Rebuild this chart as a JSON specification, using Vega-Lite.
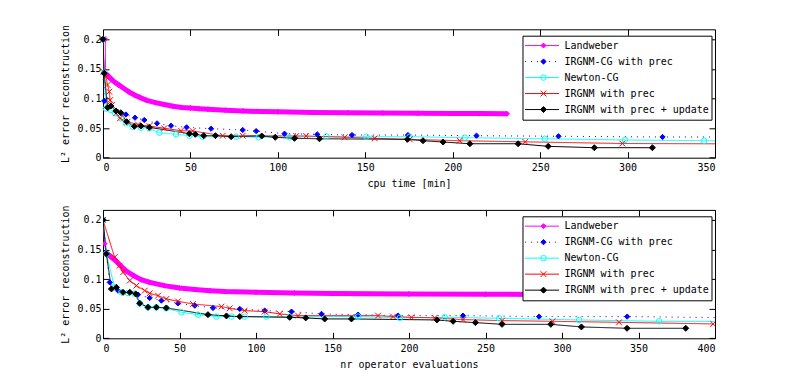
{
  "$schema": "https://vega.github.io/schema/vega-lite/v6.json",
  "padding": {"left": 60, "top": 23.3, "right": 5, "bottom": 5},
  "background": "white",
  "config": {
    "font": "DejaVu Sans Mono",
    "view": {"stroke": "#000", "strokeWidth": 1},
    "axis": {
      "labelFont": "DejaVu Sans Mono", "labelFontSize": 10, "labelColor": "#000",
      "titleFont": "DejaVu Sans Mono", "titleFontSize": 10, "titleFontWeight": "normal", "titleColor": "#000",
      "grid": false, "domain": false, "tickColor": "#000", "tickSize": -6, "tickWidth": 1
    }
  },
  "datasets": {
    "top": [
      {"s": "Landweber", "x": 0, "v": 0.2}, {"s": "Landweber", "x": 1.3, "v": 0.2}, {"s": "Landweber", "x": 1.5, "v": 0.143},
      {"s": "Landweber", "x": 3, "v": 0.138}, {"s": "Landweber", "x": 5, "v": 0.132}, {"s": "Landweber", "x": 7, "v": 0.127},
      {"s": "Landweber", "x": 9, "v": 0.123}, {"s": "Landweber", "x": 12, "v": 0.117}, {"s": "Landweber", "x": 15, "v": 0.111},
      {"s": "Landweber", "x": 18, "v": 0.106}, {"s": "Landweber", "x": 21, "v": 0.102}, {"s": "Landweber", "x": 25, "v": 0.097},
      {"s": "Landweber", "x": 30, "v": 0.093}, {"s": "Landweber", "x": 35, "v": 0.09}, {"s": "Landweber", "x": 40, "v": 0.087},
      {"s": "Landweber", "x": 45, "v": 0.085}, {"s": "Landweber", "x": 50, "v": 0.0838}, {"s": "Landweber", "x": 55, "v": 0.0828},
      {"s": "Landweber", "x": 60, "v": 0.0818}, {"s": "Landweber", "x": 70, "v": 0.0802}, {"s": "Landweber", "x": 80, "v": 0.079},
      {"s": "Landweber", "x": 90, "v": 0.078}, {"s": "Landweber", "x": 100, "v": 0.0775}, {"s": "Landweber", "x": 120, "v": 0.0765},
      {"s": "Landweber", "x": 140, "v": 0.076}, {"s": "Landweber", "x": 160, "v": 0.0755}, {"s": "Landweber", "x": 180, "v": 0.075},
      {"s": "Landweber", "x": 200, "v": 0.0748}, {"s": "Landweber", "x": 215, "v": 0.0745}, {"s": "Landweber", "x": 231, "v": 0.0743},

      {"s": "IRGNM-CG with prec", "x": 0, "v": 0.2}, {"s": "IRGNM-CG with prec", "x": 0.7, "v": 0.096}, {"s": "IRGNM-CG with prec", "x": 13.1, "v": 0.073},
      {"s": "IRGNM-CG with prec", "x": 18.3, "v": 0.0676}, {"s": "IRGNM-CG with prec", "x": 23.6, "v": 0.0637}, {"s": "IRGNM-CG with prec", "x": 30.9, "v": 0.058},
      {"s": "IRGNM-CG with prec", "x": 38.9, "v": 0.054}, {"s": "IRGNM-CG with prec", "x": 47.8, "v": 0.0513}, {"s": "IRGNM-CG with prec", "x": 61.8, "v": 0.049},
      {"s": "IRGNM-CG with prec", "x": 79.9, "v": 0.0468}, {"s": "IRGNM-CG with prec", "x": 87.6, "v": 0.045}, {"s": "IRGNM-CG with prec", "x": 103.8, "v": 0.0406},
      {"s": "IRGNM-CG with prec", "x": 122.5, "v": 0.0395}, {"s": "IRGNM-CG with prec", "x": 142.4, "v": 0.0383}, {"s": "IRGNM-CG with prec", "x": 174.4, "v": 0.0383},
      {"s": "IRGNM-CG with prec", "x": 213.6, "v": 0.0372}, {"s": "IRGNM-CG with prec", "x": 260.5, "v": 0.0362}, {"s": "IRGNM-CG with prec", "x": 320, "v": 0.035},
      {"s": "IRGNM-CG with prec", "x": 350, "v": 0.035},

      {"s": "Newton-CG", "x": 0, "v": 0.2}, {"s": "Newton-CG", "x": 0.7, "v": 0.1436}, {"s": "Newton-CG", "x": 1.7, "v": 0.083},
      {"s": "Newton-CG", "x": 4.5, "v": 0.0806}, {"s": "Newton-CG", "x": 7, "v": 0.075}, {"s": "Newton-CG", "x": 10.2, "v": 0.0665},
      {"s": "Newton-CG", "x": 13.1, "v": 0.058}, {"s": "Newton-CG", "x": 16.9, "v": 0.0524}, {"s": "Newton-CG", "x": 21.7, "v": 0.0507},
      {"s": "Newton-CG", "x": 26.5, "v": 0.0497}, {"s": "Newton-CG", "x": 32.2, "v": 0.0422}, {"s": "Newton-CG", "x": 41.8, "v": 0.0395},
      {"s": "Newton-CG", "x": 49.4, "v": 0.0372}, {"s": "Newton-CG", "x": 57, "v": 0.0355}, {"s": "Newton-CG", "x": 76.1, "v": 0.0355},
      {"s": "Newton-CG", "x": 89, "v": 0.0345}, {"s": "Newton-CG", "x": 106.7, "v": 0.0345}, {"s": "Newton-CG", "x": 127.7, "v": 0.036},
      {"s": "Newton-CG", "x": 150.6, "v": 0.0355}, {"s": "Newton-CG", "x": 175.4, "v": 0.0355}, {"s": "Newton-CG", "x": 206.9, "v": 0.0338},
      {"s": "Newton-CG", "x": 252.7, "v": 0.032}, {"s": "Newton-CG", "x": 298.5, "v": 0.03}, {"s": "Newton-CG", "x": 343.8, "v": 0.0287},
      {"s": "Newton-CG", "x": 350, "v": 0.0287},

      {"s": "IRGNM with prec", "x": 0, "v": 0.2}, {"s": "IRGNM with prec", "x": 0.3, "v": 0.145}, {"s": "IRGNM with prec", "x": 1.7, "v": 0.137},
      {"s": "IRGNM with prec", "x": 2.6, "v": 0.123}, {"s": "IRGNM with prec", "x": 3.6, "v": 0.1115}, {"s": "IRGNM with prec", "x": 4.1, "v": 0.0975},
      {"s": "IRGNM with prec", "x": 5.1, "v": 0.089}, {"s": "IRGNM with prec", "x": 7.5, "v": 0.075}, {"s": "IRGNM with prec", "x": 9.7, "v": 0.0665},
      {"s": "IRGNM with prec", "x": 14, "v": 0.0608}, {"s": "IRGNM with prec", "x": 20, "v": 0.056}, {"s": "IRGNM with prec", "x": 26.5, "v": 0.0535},
      {"s": "IRGNM with prec", "x": 35, "v": 0.0497}, {"s": "IRGNM with prec", "x": 44.6, "v": 0.0456}, {"s": "IRGNM with prec", "x": 51.3, "v": 0.0451},
      {"s": "IRGNM with prec", "x": 68.5, "v": 0.0372}, {"s": "IRGNM with prec", "x": 79.9, "v": 0.0372}, {"s": "IRGNM with prec", "x": 110.5, "v": 0.0367},
      {"s": "IRGNM with prec", "x": 116.2, "v": 0.0367}, {"s": "IRGNM with prec", "x": 138.2, "v": 0.0345}, {"s": "IRGNM with prec", "x": 155.4, "v": 0.0327},
      {"s": "IRGNM with prec", "x": 175.4, "v": 0.031}, {"s": "IRGNM with prec", "x": 204, "v": 0.0287}, {"s": "IRGNM with prec", "x": 241.5, "v": 0.0268},
      {"s": "IRGNM with prec", "x": 297, "v": 0.024}, {"s": "IRGNM with prec", "x": 350, "v": 0.0235},

      {"s": "IRGNM with prec + update", "x": 0, "v": 0.2}, {"s": "IRGNM with prec + update", "x": 0.7, "v": 0.1426}, {"s": "IRGNM with prec + update", "x": 2.6, "v": 0.0845},
      {"s": "IRGNM with prec + update", "x": 4.5, "v": 0.0873}, {"s": "IRGNM with prec + update", "x": 7.4, "v": 0.079}, {"s": "IRGNM with prec + update", "x": 10.2, "v": 0.076},
      {"s": "IRGNM with prec + update", "x": 13.5, "v": 0.0608}, {"s": "IRGNM with prec + update", "x": 17.9, "v": 0.053}, {"s": "IRGNM with prec + update", "x": 21.7, "v": 0.0535},
      {"s": "IRGNM with prec + update", "x": 26.5, "v": 0.0513}, {"s": "IRGNM with prec + update", "x": 49.4, "v": 0.0406}, {"s": "IRGNM with prec + update", "x": 52.8, "v": 0.0395},
      {"s": "IRGNM with prec + update", "x": 57.6, "v": 0.0372}, {"s": "IRGNM with prec + update", "x": 64.3, "v": 0.0372}, {"s": "IRGNM with prec + update", "x": 73.3, "v": 0.0355},
      {"s": "IRGNM with prec + update", "x": 90.8, "v": 0.0367}, {"s": "IRGNM with prec + update", "x": 98.5, "v": 0.0345}, {"s": "IRGNM with prec + update", "x": 109.5, "v": 0.0327},
      {"s": "IRGNM with prec + update", "x": 123.8, "v": 0.032}, {"s": "IRGNM with prec + update", "x": 174.1, "v": 0.031}, {"s": "IRGNM with prec + update", "x": 183, "v": 0.0287},
      {"s": "IRGNM with prec + update", "x": 194.5, "v": 0.0265}, {"s": "IRGNM with prec + update", "x": 209.8, "v": 0.0236}, {"s": "IRGNM with prec + update", "x": 237.4, "v": 0.0236},
      {"s": "IRGNM with prec + update", "x": 254.6, "v": 0.0192}, {"s": "IRGNM with prec + update", "x": 281, "v": 0.0169}, {"s": "IRGNM with prec + update", "x": 314.2, "v": 0.0169}
    ],
    "bot": [
      {"s": "Landweber", "x": 0, "v": 0.2}, {"s": "Landweber", "x": 1, "v": 0.16}, {"s": "Landweber", "x": 2, "v": 0.145},
      {"s": "Landweber", "x": 5, "v": 0.138}, {"s": "Landweber", "x": 8, "v": 0.132}, {"s": "Landweber", "x": 11, "v": 0.124},
      {"s": "Landweber", "x": 15, "v": 0.114}, {"s": "Landweber", "x": 20, "v": 0.106}, {"s": "Landweber", "x": 25, "v": 0.099},
      {"s": "Landweber", "x": 30, "v": 0.095}, {"s": "Landweber", "x": 40, "v": 0.089}, {"s": "Landweber", "x": 50, "v": 0.085},
      {"s": "Landweber", "x": 60, "v": 0.0825}, {"s": "Landweber", "x": 70, "v": 0.0805}, {"s": "Landweber", "x": 80, "v": 0.079},
      {"s": "Landweber", "x": 100, "v": 0.0777}, {"s": "Landweber", "x": 125, "v": 0.0765}, {"s": "Landweber", "x": 150, "v": 0.0755},
      {"s": "Landweber", "x": 200, "v": 0.075}, {"s": "Landweber", "x": 250, "v": 0.0745}, {"s": "Landweber", "x": 300, "v": 0.0738},
      {"s": "Landweber", "x": 330, "v": 0.0735},

      {"s": "IRGNM-CG with prec", "x": 0, "v": 0.2}, {"s": "IRGNM-CG with prec", "x": 2.2, "v": 0.143}, {"s": "IRGNM-CG with prec", "x": 4.4, "v": 0.0946},
      {"s": "IRGNM-CG with prec", "x": 9.8, "v": 0.0806}, {"s": "IRGNM-CG with prec", "x": 17.5, "v": 0.0777}, {"s": "IRGNM-CG with prec", "x": 22.9, "v": 0.0738},
      {"s": "IRGNM-CG with prec", "x": 30.5, "v": 0.0682}, {"s": "IRGNM-CG with prec", "x": 38.2, "v": 0.0637}, {"s": "IRGNM-CG with prec", "x": 49, "v": 0.0591},
      {"s": "IRGNM-CG with prec", "x": 60, "v": 0.0552}, {"s": "IRGNM-CG with prec", "x": 71.9, "v": 0.0513}, {"s": "IRGNM-CG with prec", "x": 89.4, "v": 0.0496},
      {"s": "IRGNM-CG with prec", "x": 105.7, "v": 0.0468}, {"s": "IRGNM-CG with prec", "x": 123.2, "v": 0.0451}, {"s": "IRGNM-CG with prec", "x": 142.8, "v": 0.0412},
      {"s": "IRGNM-CG with prec", "x": 166.7, "v": 0.04}, {"s": "IRGNM-CG with prec", "x": 192.9, "v": 0.0383}, {"s": "IRGNM-CG with prec", "x": 235.3, "v": 0.0383},
      {"s": "IRGNM-CG with prec", "x": 285, "v": 0.0367}, {"s": "IRGNM-CG with prec", "x": 342.6, "v": 0.0367}, {"s": "IRGNM-CG with prec", "x": 400, "v": 0.035},

      {"s": "Newton-CG", "x": 0, "v": 0.2}, {"s": "Newton-CG", "x": 2.2, "v": 0.1426}, {"s": "Newton-CG", "x": 7.6, "v": 0.0861},
      {"s": "Newton-CG", "x": 12, "v": 0.0777}, {"s": "Newton-CG", "x": 16.3, "v": 0.0767}, {"s": "Newton-CG", "x": 20.5, "v": 0.0755},
      {"s": "Newton-CG", "x": 24, "v": 0.059}, {"s": "Newton-CG", "x": 29.4, "v": 0.0524}, {"s": "Newton-CG", "x": 34.9, "v": 0.0524},
      {"s": "Newton-CG", "x": 41.4, "v": 0.0507}, {"s": "Newton-CG", "x": 51.3, "v": 0.0439}, {"s": "Newton-CG", "x": 62.1, "v": 0.04},
      {"s": "Newton-CG", "x": 74.1, "v": 0.0367}, {"s": "Newton-CG", "x": 84, "v": 0.0367}, {"s": "Newton-CG", "x": 92.6, "v": 0.0367},
      {"s": "Newton-CG", "x": 106.8, "v": 0.0367}, {"s": "Newton-CG", "x": 122, "v": 0.0362}, {"s": "Newton-CG", "x": 166.7, "v": 0.0367},
      {"s": "Newton-CG", "x": 194, "v": 0.0345}, {"s": "Newton-CG", "x": 223.4, "v": 0.0355}, {"s": "Newton-CG", "x": 258.9, "v": 0.0338},
      {"s": "Newton-CG", "x": 311.2, "v": 0.031}, {"s": "Newton-CG", "x": 363.5, "v": 0.0287}, {"s": "Newton-CG", "x": 400, "v": 0.0285},

      {"s": "IRGNM with prec", "x": 0, "v": 0.2}, {"s": "IRGNM with prec", "x": 7.6, "v": 0.137}, {"s": "IRGNM with prec", "x": 10.9, "v": 0.1228},
      {"s": "IRGNM with prec", "x": 13.1, "v": 0.1115}, {"s": "IRGNM with prec", "x": 17.5, "v": 0.0975}, {"s": "IRGNM with prec", "x": 21.8, "v": 0.089},
      {"s": "IRGNM with prec", "x": 27.3, "v": 0.0806}, {"s": "IRGNM with prec", "x": 30.5, "v": 0.076}, {"s": "IRGNM with prec", "x": 36, "v": 0.0721},
      {"s": "IRGNM with prec", "x": 41.4, "v": 0.0665}, {"s": "IRGNM with prec", "x": 49, "v": 0.0625}, {"s": "IRGNM with prec", "x": 58.8, "v": 0.058},
      {"s": "IRGNM with prec", "x": 77.4, "v": 0.0535}, {"s": "IRGNM with prec", "x": 82.8, "v": 0.0507}, {"s": "IRGNM with prec", "x": 92.6, "v": 0.0468},
      {"s": "IRGNM with prec", "x": 105.7, "v": 0.0451}, {"s": "IRGNM with prec", "x": 115.5, "v": 0.0412}, {"s": "IRGNM with prec", "x": 127.5, "v": 0.0383},
      {"s": "IRGNM with prec", "x": 179.8, "v": 0.0383}, {"s": "IRGNM with prec", "x": 189.6, "v": 0.0367}, {"s": "IRGNM with prec", "x": 201.6, "v": 0.0355},
      {"s": "IRGNM with prec", "x": 216.8, "v": 0.0345}, {"s": "IRGNM with prec", "x": 235.3, "v": 0.0316}, {"s": "IRGNM with prec", "x": 260.8, "v": 0.0299},
      {"s": "IRGNM with prec", "x": 293.8, "v": 0.0287}, {"s": "IRGNM with prec", "x": 337.3, "v": 0.027}, {"s": "IRGNM with prec", "x": 398.8, "v": 0.0243},

      {"s": "IRGNM with prec + update", "x": 0, "v": 0.2}, {"s": "IRGNM with prec + update", "x": 2.2, "v": 0.1426}, {"s": "IRGNM with prec + update", "x": 5.5, "v": 0.0834},
      {"s": "IRGNM with prec + update", "x": 8.8, "v": 0.0861}, {"s": "IRGNM with prec + update", "x": 13.1, "v": 0.0777}, {"s": "IRGNM with prec + update", "x": 17.5, "v": 0.0777},
      {"s": "IRGNM with prec + update", "x": 21.4, "v": 0.075}, {"s": "IRGNM with prec + update", "x": 24, "v": 0.0591}, {"s": "IRGNM with prec + update", "x": 29.4, "v": 0.0524},
      {"s": "IRGNM with prec + update", "x": 34.9, "v": 0.0524}, {"s": "IRGNM with prec + update", "x": 41.4, "v": 0.0513}, {"s": "IRGNM with prec + update", "x": 68.6, "v": 0.04},
      {"s": "IRGNM with prec + update", "x": 80.7, "v": 0.0378}, {"s": "IRGNM with prec + update", "x": 89.4, "v": 0.0367}, {"s": "IRGNM with prec + update", "x": 122, "v": 0.0355},
      {"s": "IRGNM with prec + update", "x": 132.5, "v": 0.0345}, {"s": "IRGNM with prec + update", "x": 144.9, "v": 0.0327}, {"s": "IRGNM with prec + update", "x": 162.4, "v": 0.0327},
      {"s": "IRGNM with prec + update", "x": 218.3, "v": 0.031}, {"s": "IRGNM with prec + update", "x": 228.8, "v": 0.0287}, {"s": "IRGNM with prec + update", "x": 243.4, "v": 0.0265},
      {"s": "IRGNM with prec + update", "x": 260.8, "v": 0.0236}, {"s": "IRGNM with prec + update", "x": 292.7, "v": 0.0236}, {"s": "IRGNM with prec + update", "x": 312.7, "v": 0.0192},
      {"s": "IRGNM with prec + update", "x": 342.5, "v": 0.0169}, {"s": "IRGNM with prec + update", "x": 380.9, "v": 0.0169}
    ]
  },
  "vconcat": [
    {
      "width": 612, "height": 128.4,
      "data": {"name": "top"},
      "layer": [
        {
          "transform": [{"filter": "datum.s === 'Landweber' && datum.x >= 1.5"}],
          "mark": {"type": "line", "color": "#ff00ff", "strokeWidth": 5, "clip": true},
          "encoding": {
            "x": {"field": "x", "type": "quantitative", "scale": {"domain": [0, 350], "nice": false, "zero": false},
                  "axis": {"values": [0, 50, 100, 150, 200, 250, 300, 350], "title": "cpu time [min]", "labelPadding": 11, "titlePadding": 6}},
            "y": {"field": "v", "type": "quantitative", "scale": {"domain": [0, 0.217], "nice": false},
                  "axis": {"values": [0, 0.05, 0.1, 0.15, 0.2], "format": ".2~f", "title": "L² error reconstruction", "labelPadding": 8, "titlePadding": 6}},
            "order": {"field": "x"}
          }
        },
        {
          "mark": {"type": "line", "strokeWidth": 1, "clip": true},
          "encoding": {
            "x": {"field": "x", "type": "quantitative", "axis": null},
            "y": {"field": "v", "type": "quantitative", "axis": null},
            "order": {"field": "x"},
            "color": {"field": "s", "type": "nominal",
              "scale": {"domain": ["Landweber", "IRGNM-CG with prec", "Newton-CG", "IRGNM with prec", "IRGNM with prec + update"],
                        "range": ["#ff00ff", "#0000ff", "#00ffff", "#ff0000", "#000000"]},
              "legend": {"orient": "none", "legendX": 419.5, "legendY": 6.4, "title": null, "strokeColor": "#000", "fillColor": "#fff", "padding": 2, "cornerRadius": 0,
                "symbolSize": 1156, "symbolStrokeWidth": 1, "symbolType": "stroke", "clipHeight": 15.7,
                "labelFont": "DejaVu Sans Mono", "labelFontSize": 10, "labelColor": "#000", "labelOffset": 5, "rowPadding": 0}
            },
            "strokeDash": {"field": "s", "type": "nominal",
              "scale": {"domain": ["Landweber", "IRGNM-CG with prec", "Newton-CG", "IRGNM with prec", "IRGNM with prec + update"],
                        "range": [[1, 0], [1, 5], [1, 0], [1, 0], [1, 0]]},
              "legend": {"orient": "none", "legendX": 419.5, "legendY": 6.4, "title": null, "strokeColor": "#000", "fillColor": "#fff", "padding": 2, "cornerRadius": 0,
                "symbolSize": 1156, "symbolStrokeWidth": 1, "symbolType": "stroke", "clipHeight": 15.7,
                "labelFont": "DejaVu Sans Mono", "labelFontSize": 10, "labelColor": "#000", "labelOffset": 5, "rowPadding": 0}
            }
          }
        },
        {
          "transform": [{"filter": "datum.x < 349"}],
          "mark": {"type": "point", "filled": false, "strokeWidth": 1, "opacity": 1},
          "encoding": {
            "x": {"field": "x", "type": "quantitative", "axis": null},
            "y": {"field": "v", "type": "quantitative", "axis": null},
            "color": {"field": "s", "type": "nominal",
              "scale": {"domain": ["Landweber", "IRGNM-CG with prec", "Newton-CG", "IRGNM with prec", "IRGNM with prec + update"],
                        "range": ["#ff00ff", "#0000ff", "#00ffff", "#ff0000", "#000000"]},
              "legend": {"orient": "none", "legendX": 419.5, "legendY": 6.4, "title": null, "padding": 2, "symbolSize": 36, "symbolStrokeWidth": 1, "symbolOffset": 14,
                "clipHeight": 15.7, "labelOpacity": 0, "labelExpr": "''", "labelFont": "DejaVu Sans Mono", "labelFontSize": 10, "labelOffset": 5, "rowPadding": 0}
            },
            "fill": {"field": "s", "type": "nominal",
              "scale": {"domain": ["Landweber", "IRGNM-CG with prec", "Newton-CG", "IRGNM with prec", "IRGNM with prec + update"],
                        "range": ["#ff00ff", "#0000ff", "transparent", "transparent", "#000000"]},
              "legend": {"orient": "none", "legendX": 419.5, "legendY": 6.4, "title": null, "padding": 2, "symbolSize": 36, "symbolStrokeWidth": 1, "symbolOffset": 14,
                "clipHeight": 15.7, "labelOpacity": 0, "labelExpr": "''", "labelFont": "DejaVu Sans Mono", "labelFontSize": 10, "labelOffset": 5, "rowPadding": 0}
            },
            "shape": {"field": "s", "type": "nominal",
              "scale": {"domain": ["Landweber", "IRGNM-CG with prec", "Newton-CG", "IRGNM with prec", "IRGNM with prec + update"],
                        "range": ["diamond", "diamond", "circle", "M-1,-1L1,1M-1,1L1,-1", "diamond"]},
              "legend": {"orient": "none", "legendX": 419.5, "legendY": 6.4, "title": null, "padding": 2, "symbolSize": 36, "symbolStrokeWidth": 1, "symbolOffset": 14,
                "clipHeight": 15.7, "labelOpacity": 0, "labelExpr": "''", "labelFont": "DejaVu Sans Mono", "labelFontSize": 10, "labelOffset": 5, "rowPadding": 0}
            },
            "size": {"field": "s", "type": "nominal", "legend": null,
              "scale": {"domain": ["Landweber", "IRGNM-CG with prec", "Newton-CG", "IRGNM with prec", "IRGNM with prec + update"],
                        "range": [25, 36, 56, 30, 32]}}
          }
        },
        {
          "mark": {"type": "point", "opacity": 0},
          "encoding": {
            "x": {"field": "x", "type": "quantitative", "axis": {"orient": "top", "labels": false, "title": null, "values": [0, 50, 100, 150, 200, 250, 300, 350]}},
            "y": {"field": "v", "type": "quantitative", "axis": {"orient": "right", "labels": false, "title": null, "values": [0, 0.05, 0.1, 0.15, 0.2]}}
          }
        }
      ],
      "resolve": {"axis": {"x": "independent", "y": "independent"},
                  "legend": {"color": "independent", "strokeDash": "independent", "fill": "independent", "shape": "independent", "size": "independent"}}
    },
    {
      "width": 612, "height": 128.4,
      "data": {"name": "bot"},
      "layer": [
        {
          "transform": [{"filter": "datum.s === 'Landweber' && datum.x >= 2"}],
          "mark": {"type": "line", "color": "#ff00ff", "strokeWidth": 5, "clip": true},
          "encoding": {
            "x": {"field": "x", "type": "quantitative", "scale": {"domain": [0, 400], "nice": false, "zero": false},
                  "axis": {"values": [0, 50, 100, 150, 200, 250, 300, 350, 400], "title": "nr operator evaluations", "labelPadding": 11, "titlePadding": 6}},
            "y": {"field": "v", "type": "quantitative", "scale": {"domain": [0, 0.217], "nice": false},
                  "axis": {"values": [0, 0.05, 0.1, 0.15, 0.2], "format": ".2~f", "title": "L² error reconstruction", "labelPadding": 8, "titlePadding": 6}},
            "order": {"field": "x"}
          }
        },
        {
          "mark": {"type": "line", "strokeWidth": 1, "clip": true},
          "encoding": {
            "x": {"field": "x", "type": "quantitative", "axis": null},
            "y": {"field": "v", "type": "quantitative", "axis": null},
            "order": {"field": "x"},
            "color": {"field": "s", "type": "nominal",
              "scale": {"domain": ["Landweber", "IRGNM-CG with prec", "Newton-CG", "IRGNM with prec", "IRGNM with prec + update"],
                        "range": ["#ff00ff", "#0000ff", "#00ffff", "#ff0000", "#000000"]},
              "legend": {"orient": "none", "legendX": 419.5, "legendY": 6.4, "title": null, "strokeColor": "#000", "fillColor": "#fff", "padding": 2, "cornerRadius": 0,
                "symbolSize": 1156, "symbolStrokeWidth": 1, "symbolType": "stroke", "clipHeight": 15.7,
                "labelFont": "DejaVu Sans Mono", "labelFontSize": 10, "labelColor": "#000", "labelOffset": 5, "rowPadding": 0}
            },
            "strokeDash": {"field": "s", "type": "nominal",
              "scale": {"domain": ["Landweber", "IRGNM-CG with prec", "Newton-CG", "IRGNM with prec", "IRGNM with prec + update"],
                        "range": [[1, 0], [1, 5], [1, 0], [1, 0], [1, 0]]},
              "legend": {"orient": "none", "legendX": 419.5, "legendY": 6.4, "title": null, "strokeColor": "#000", "fillColor": "#fff", "padding": 2, "cornerRadius": 0,
                "symbolSize": 1156, "symbolStrokeWidth": 1, "symbolType": "stroke", "clipHeight": 15.7,
                "labelFont": "DejaVu Sans Mono", "labelFontSize": 10, "labelColor": "#000", "labelOffset": 5, "rowPadding": 0}
            }
          }
        },
        {
          "transform": [{"filter": "datum.x < 399"}],
          "mark": {"type": "point", "filled": false, "strokeWidth": 1, "opacity": 1, "clip": true},
          "encoding": {
            "x": {"field": "x", "type": "quantitative", "axis": null},
            "y": {"field": "v", "type": "quantitative", "axis": null},
            "color": {"field": "s", "type": "nominal",
              "scale": {"domain": ["Landweber", "IRGNM-CG with prec", "Newton-CG", "IRGNM with prec", "IRGNM with prec + update"],
                        "range": ["#ff00ff", "#0000ff", "#00ffff", "#ff0000", "#000000"]},
              "legend": {"orient": "none", "legendX": 419.5, "legendY": 6.4, "title": null, "padding": 2, "symbolSize": 36, "symbolStrokeWidth": 1, "symbolOffset": 14,
                "clipHeight": 15.7, "labelOpacity": 0, "labelExpr": "''", "labelFont": "DejaVu Sans Mono", "labelFontSize": 10, "labelOffset": 5, "rowPadding": 0}
            },
            "fill": {"field": "s", "type": "nominal",
              "scale": {"domain": ["Landweber", "IRGNM-CG with prec", "Newton-CG", "IRGNM with prec", "IRGNM with prec + update"],
                        "range": ["#ff00ff", "#0000ff", "transparent", "transparent", "#000000"]},
              "legend": {"orient": "none", "legendX": 419.5, "legendY": 6.4, "title": null, "padding": 2, "symbolSize": 36, "symbolStrokeWidth": 1, "symbolOffset": 14,
                "clipHeight": 15.7, "labelOpacity": 0, "labelExpr": "''", "labelFont": "DejaVu Sans Mono", "labelFontSize": 10, "labelOffset": 5, "rowPadding": 0}
            },
            "shape": {"field": "s", "type": "nominal",
              "scale": {"domain": ["Landweber", "IRGNM-CG with prec", "Newton-CG", "IRGNM with prec", "IRGNM with prec + update"],
                        "range": ["diamond", "diamond", "circle", "M-1,-1L1,1M-1,1L1,-1", "diamond"]},
              "legend": {"orient": "none", "legendX": 419.5, "legendY": 6.4, "title": null, "padding": 2, "symbolSize": 36, "symbolStrokeWidth": 1, "symbolOffset": 14,
                "clipHeight": 15.7, "labelOpacity": 0, "labelExpr": "''", "labelFont": "DejaVu Sans Mono", "labelFontSize": 10, "labelOffset": 5, "rowPadding": 0}
            },
            "size": {"field": "s", "type": "nominal", "legend": null,
              "scale": {"domain": ["Landweber", "IRGNM-CG with prec", "Newton-CG", "IRGNM with prec", "IRGNM with prec + update"],
                        "range": [25, 36, 56, 30, 32]}}
          }
        },
        {
          "mark": {"type": "point", "opacity": 0},
          "encoding": {
            "x": {"field": "x", "type": "quantitative", "axis": {"orient": "top", "labels": false, "title": null, "values": [0, 50, 100, 150, 200, 250, 300, 350, 400]}},
            "y": {"field": "v", "type": "quantitative", "axis": {"orient": "right", "labels": false, "title": null, "values": [0, 0.05, 0.1, 0.15, 0.2]}}
          }
        }
      ],
      "resolve": {"axis": {"x": "independent", "y": "independent"},
                  "legend": {"color": "independent", "strokeDash": "independent", "fill": "independent", "shape": "independent", "size": "independent"}}
    }
  ],
  "spacing": 51.6,
  "bounds": "flush"
}
